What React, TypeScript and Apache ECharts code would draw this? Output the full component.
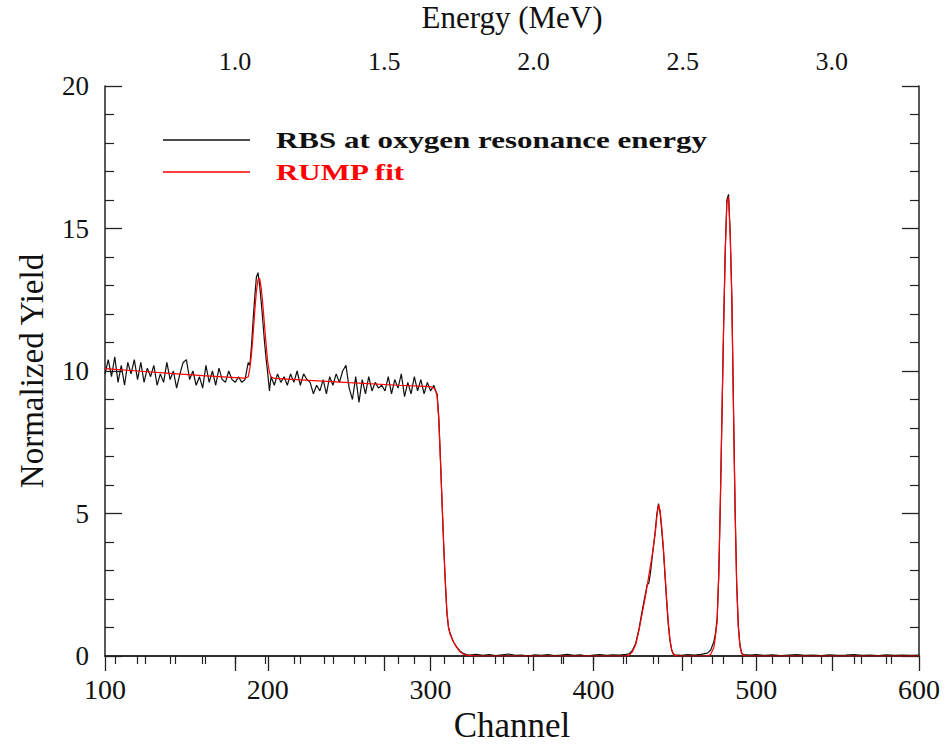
import React, { useEffect, useRef } from "react";
import * as echarts from "echarts";

// Channel range and energy calibration (top axis)
const channelMin = 100;
const channelMax = 600;
const energyMin = 0.5644;
const energyMax = 3.292;
const energyMajorTicks = [1.0, 1.5, 2.0, 2.5, 3.0];
const energyMinorTicks = [0.6, 0.7, 0.8, 0.9, 1.1, 1.2, 1.3, 1.4, 1.6, 1.7, 1.8, 1.9, 2.1, 2.2, 2.3, 2.4, 2.6, 2.7, 2.8, 2.9, 3.1, 3.2];

// Measured RBS spectrum [channel, normalized yield]
const rbsData: [number, number][] = [
  [100, 9.9], [102, 10.4], [104, 9.8], [106, 10.5], [108, 9.6], [110, 10.2], [112, 9.5], [114, 10.3], [116, 9.9], [118, 10.4],
  [120, 9.7], [122, 10.3], [124, 9.6], [126, 10.1], [128, 9.8], [130, 10.2], [132, 9.5], [134, 9.9], [136, 9.6], [138, 10.3],
  [140, 9.7], [142, 10.0], [144, 9.4], [146, 9.9], [148, 10.3], [150, 10.4], [152, 9.7], [154, 10.0], [156, 9.5], [158, 9.8],
  [160, 9.4], [162, 10.2], [164, 9.6], [166, 10.0], [168, 9.5], [170, 10.1], [172, 9.7], [174, 9.6], [176, 10.0], [178, 9.7],
  [180, 9.6], [182, 9.8], [184, 9.6], [186, 9.7], [188, 10.3],
  [189, 10.2], [190, 10.9], [191, 11.8], [192, 12.6], [193, 13.3], [194, 13.45], [195, 13.0], [196, 12.4], [197, 11.7], [198, 11.0], [199, 10.4], [200, 9.9], [201, 9.3],
  [202, 9.8], [204, 9.5], [206, 9.9], [208, 9.6], [210, 9.8], [212, 9.5], [214, 9.9], [216, 9.6], [218, 10.0], [220, 9.5],
  [222, 9.9], [224, 9.7], [226, 9.6], [228, 9.2], [230, 9.5], [232, 9.3], [234, 9.7], [236, 9.2], [238, 9.8], [240, 9.5],
  [242, 9.9], [244, 9.6], [246, 10.0], [248, 10.2], [250, 9.4], [252, 9.0], [254, 9.8], [256, 8.9], [258, 9.7], [260, 9.2],
  [262, 9.8], [264, 9.3], [266, 9.6], [268, 9.4], [270, 9.5], [272, 9.3], [274, 9.8], [276, 9.2], [278, 9.7], [280, 9.4],
  [282, 9.9], [284, 9.1], [286, 9.6], [288, 9.2], [290, 9.8], [292, 9.3], [294, 9.7], [296, 9.2], [298, 9.6], [300, 9.3], [302, 9.5],
  [303, 9.3], [304, 9.2], [305, 8.4], [306, 7.0], [307, 5.4], [308, 3.9], [309, 2.6], [310, 1.5], [311, 1.0], [312, 0.8], [313, 0.65], [314, 0.5],
  [316, 0.32], [318, 0.18], [320, 0.09], [322, 0.05], [324, 0.03],
  [328, 0.06], [332, 0.02], [336, 0.05], [340, 0.01], [344, 0.04], [348, 0.07], [352, 0.02], [356, 0.03], [360, 0.0], [364, 0.04],
  [368, 0.02], [372, 0.05], [376, 0.01], [380, 0.03], [384, 0.06], [388, 0.02], [392, 0.04], [396, 0.0], [400, 0.03], [404, 0.05],
  [408, 0.02], [412, 0.04], [416, 0.03], [420, 0.06],
  [422, 0.08], [424, 0.2], [426, 0.45], [428, 0.95], [430, 1.6], [432, 2.2], [433, 2.5], [434, 2.55], [435, 2.9], [436, 3.4],
  [437, 3.9], [438, 4.4], [439, 5.0], [440, 5.35], [441, 5.0], [442, 4.4], [443, 3.7], [444, 2.8], [445, 1.9], [446, 1.1],
  [447, 0.55], [448, 0.22], [449, 0.08], [450, 0.04],
  [454, 0.02], [458, 0.05], [462, 0.03], [466, 0.06], [470, 0.1],
  [472, 0.2], [473, 0.35], [474, 0.5], [475, 0.8], [476, 1.3], [477, 2.8], [478, 5.4], [479, 8.5], [480, 11.6], [481, 14.3],
  [482, 16.0], [483, 16.2], [484, 14.9], [485, 12.7], [486, 8.9], [487, 5.3], [488, 2.6], [489, 1.1], [490, 0.4], [491, 0.12], [492, 0.05],
  [496, 0.03], [500, 0.05], [505, 0.02], [510, 0.04], [515, 0.01], [520, 0.03], [525, 0.05], [530, 0.02], [535, 0.03], [540, 0.01],
  [545, 0.04], [550, 0.02], [555, 0.03], [560, 0.05], [565, 0.02], [570, 0.03], [575, 0.01], [580, 0.04], [585, 0.02], [590, 0.03],
  [595, 0.02], [600, 0.03],
];

// RUMP simulation fit [channel, normalized yield]
const rumpFit: [number, number][] = [
  [100, 10.08], [120, 10.0], [140, 9.92], [160, 9.84], [180, 9.77], [186, 9.75], [188, 9.8], [189, 10.1], [190, 10.6], [191, 11.3],
  [192, 12.1], [193, 12.8], [194, 13.2], [195, 13.25], [196, 12.9], [197, 12.3], [198, 11.6], [199, 10.9], [200, 10.3], [201, 9.95],
  [202, 9.8], [204, 9.74], [220, 9.69], [250, 9.59], [280, 9.5], [300, 9.45], [302, 9.4], [303, 9.35], [304, 9.1], [305, 8.3],
  [306, 6.9], [307, 5.5], [308, 4.0], [309, 2.7], [310, 1.6], [311, 1.0], [312, 0.75], [314, 0.5], [316, 0.3], [318, 0.15],
  [320, 0.07], [322, 0.03], [325, 0.01], [330, 0], [420, 0], [422, 0.03], [424, 0.15], [426, 0.4], [428, 0.9], [430, 1.5],
  [432, 2.1], [434, 2.8], [436, 3.5], [438, 4.3], [439, 4.9], [440, 5.3], [441, 5.1], [442, 4.5], [443, 3.8], [444, 2.9],
  [445, 2.0], [446, 1.2], [447, 0.6], [448, 0.25], [449, 0.08], [450, 0.02], [452, 0], [470, 0], [472, 0.05], [474, 0.3],
  [475, 0.7], [476, 1.2], [477, 2.9], [478, 5.5], [479, 8.6], [480, 11.6], [481, 14.2], [482, 15.9], [483, 16.1], [484, 14.8],
  [485, 12.6], [486, 8.8], [487, 5.2], [488, 2.5], [489, 1.0], [490, 0.35], [491, 0.1], [492, 0.02], [494, 0], [600, 0],
];

const legendItems = ["RBS at oxygen resonance energy", "RUMP fit"];
const legendColors = ["#111111", "#ff0000"];

const FONT = "'Liberation Serif', 'Times New Roman', serif";
const AXIS_COLOR = "#222";

export default function App() {
  const ref = useRef<HTMLDivElement>(null);

  useEffect(() => {
    document.body.style.margin = "0";
    if (!ref.current) return;
    const chart = echarts.init(ref.current, null, { renderer: "svg" });

    const axisLine = { show: true, lineStyle: { color: AXIS_COLOR, width: 1.5 } };
    const labelStyle = { color: "#111", fontFamily: FONT, fontSize: 27 };
    const gridBox = { left: 105, right: 28, top: 86, bottom: 94, containLabel: false, outerBoundsMode: "none" };

    chart.setOption({
      animation: false,
      backgroundColor: "#fff",
      grid: [gridBox, { ...gridBox }],
      xAxis: [
        {
          type: "value",
          gridIndex: 0,
          position: "bottom",
          min: channelMin,
          max: channelMax,
          interval: 100,
          axisLine,
          axisTick: { show: true, inside: false, length: 15, lineStyle: { color: AXIS_COLOR, width: 1.3 } },
          minorTick: { show: true, splitNumber: 5, length: 8, lineStyle: { color: AXIS_COLOR, width: 1.2 } },
          splitLine: { show: false },
          axisLabel: { ...labelStyle, fontSize: 28, margin: 19 },
          name: "Channel",
          nameLocation: "middle",
          nameGap: 52,
          nameTextStyle: { color: "#111", fontFamily: FONT, fontSize: 35 },
        },
        {
          type: "value",
          gridIndex: 0,
          position: "top",
          min: energyMin,
          max: energyMax,
          axisLine,
          axisTick: { show: true, inside: true, length: 15, customValues: energyMajorTicks, lineStyle: { color: AXIS_COLOR, width: 1.3 } },
          splitLine: { show: false },
          axisLabel: {
            color: "#111",
            fontFamily: FONT,
            fontSize: 26,
            margin: 12,
            customValues: energyMajorTicks,
            formatter: (v: number) => v.toFixed(1),
          },
          name: "Energy (MeV)",
          nameLocation: "middle",
          nameGap: 53,
          nameTextStyle: { color: "#111", fontFamily: FONT, fontSize: 31 },
        },
        {
          type: "value",
          gridIndex: 1,
          position: "top",
          min: energyMin,
          max: energyMax,
          axisLine: { show: false },
          axisTick: { show: true, inside: true, length: 8, customValues: energyMinorTicks, lineStyle: { color: AXIS_COLOR, width: 1.2 } },
          splitLine: { show: false },
          axisLabel: { show: false, customValues: energyMinorTicks },
        },
      ],
      yAxis: [
        {
          type: "value",
          gridIndex: 0,
          position: "left",
          min: 0,
          max: 20,
          interval: 5,
          axisLine,
          axisTick: { show: true, inside: true, length: 17, lineStyle: { color: AXIS_COLOR, width: 1.3 } },
          minorTick: { show: true, splitNumber: 5, length: 9, lineStyle: { color: AXIS_COLOR, width: 1.2 } },
          splitLine: { show: false },
          axisLabel: { ...labelStyle, margin: 16 },
          name: "Normalized Yield",
          nameLocation: "middle",
          nameGap: 57,
          nameRotate: 90,
          nameTextStyle: { color: "#111", fontFamily: FONT, fontSize: 33 },
        },
        {
          type: "value",
          gridIndex: 0,
          position: "right",
          min: 0,
          max: 20,
          interval: 5,
          axisLine,
          axisTick: { show: true, inside: true, length: 17, lineStyle: { color: AXIS_COLOR, width: 1.3 } },
          minorTick: { show: true, splitNumber: 5, length: 9, lineStyle: { color: AXIS_COLOR, width: 1.2 } },
          splitLine: { show: false },
          axisLabel: { show: false },
        },
        {
          type: "value",
          gridIndex: 1,
          min: 0,
          max: 20,
          show: false,
        },
      ],
      series: [
        {
          name: legendItems[0],
          type: "line",
          xAxisIndex: 0,
          yAxisIndex: 0,
          data: rbsData,
          showSymbol: false,
          symbol: "none",
          lineStyle: { color: legendColors[0], width: 1.2 },
          z: 2,
        },
        {
          name: legendItems[1],
          type: "line",
          xAxisIndex: 0,
          yAxisIndex: 0,
          data: rumpFit,
          showSymbol: false,
          symbol: "none",
          lineStyle: { color: legendColors[1], width: 1.2 },
          z: 3,
        },
      ],
      graphic: [
        { type: "line", shape: { x1: 163, y1: 140, x2: 250, y2: 140 }, style: { stroke: legendColors[0], lineWidth: 1.5 } },
        {
          type: "text",
          x: 276,
          y: 140,
          scaleX: 1.29,
          style: { text: legendItems[0], fill: legendColors[0], font: `bold 24px ${FONT}`, verticalAlign: "middle", align: "left" },
        },
        { type: "line", shape: { x1: 163, y1: 172, x2: 250, y2: 172 }, style: { stroke: legendColors[1], lineWidth: 1.5 } },
        {
          type: "text",
          x: 276,
          y: 172,
          scaleX: 1.29,
          style: { text: legendItems[1], fill: legendColors[1], font: `bold 24px ${FONT}`, verticalAlign: "middle", align: "left" },
        },
      ],
    });

    return () => chart.dispose();
  }, []);

  return <div ref={ref} style={{ width: 947, height: 750 }} />;
}
